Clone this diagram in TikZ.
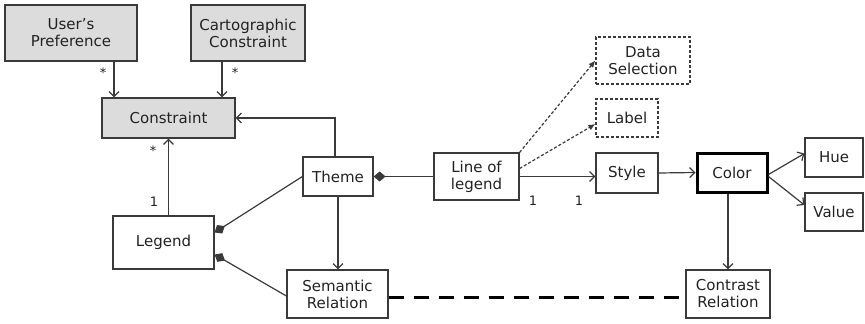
\documentclass[tikz,border=0pt]{standalone}
\usepackage{fontspec}
\setmainfont{DejaVu Sans}
\usetikzlibrary{arrows.meta,calc}
\definecolor{ln}{HTML}{3A3A3A}
\definecolor{tx}{HTML}{222222}
\definecolor{gfill}{HTML}{DCDCDC}
\tikzset{
  box/.style={draw=ln,line width=1.2pt,rectangle,align=center,text=tx,font=\fontsize{15}{17}\selectfont,inner sep=1pt},
  grey/.style={box,fill=gfill},
  dbox/.style={box,dash pattern=on 3pt off 2pt},
  thickbox/.style={box,draw=black,line width=3pt},
  conn/.style={draw=ln,line width=1.2pt},
  arr/.style={conn,-{Straight Barb[length=5pt,width=10pt,line width=1.2pt]}},
  darr/.style={conn,dash pattern=on 3pt off 2pt,-{Latex[length=7pt,width=6pt]}},
  comp/.style={conn,{Diamond[length=12pt,width=10pt]}-},
  mult/.style={text=tx,font=\fontsize{13}{15}\selectfont,inner sep=0pt}
}
\begin{document}
\begin{tikzpicture}[x=1pt,y=-1pt]
\useasboundingbox (0,0) rectangle (865,324);
\node[grey,minimum width=132pt,minimum height=56pt] (up) at (71,33) {User's\\Preference};
\node[grey,minimum width=114pt,minimum height=56pt] (cc) at (248,33) {Cartographic\\Constraint};
\node[grey,minimum width=133pt,minimum height=40pt] (con) at (168.5,118) {Constraint};
\node[box,minimum width=70pt,minimum height=39pt] (theme) at (338,176.5) {Theme};
\node[box,minimum width=101pt,minimum height=53pt] (legend) at (163.5,242.5) {Legend};
\node[box,minimum width=101pt,minimum height=48pt] (sem) at (337.5,294) {Semantic\\Relation};
\node[box,minimum width=85pt,minimum height=47pt] (lol) at (476.5,176.5) {Line of\\legend};
\node[dbox,minimum width=94pt,minimum height=47pt] (ds) at (643,60.5) {Data\\Selection};
\node[dbox,minimum width=62pt,minimum height=38pt] (lab) at (627,118) {Label};
\node[box,minimum width=62pt,minimum height=40pt] (style) at (627,173) {Style};
\node[thickbox,minimum width=70pt,minimum height=39pt] (color) at (732,172.5) {Color};
\node[box,minimum width=58pt,minimum height=39pt] (hue) at (834,157.5) {Hue};
\node[box,minimum width=58pt,minimum height=38pt] (value) at (834,212) {Value};
\node[box,minimum width=84pt,minimum height=48pt] (contrast) at (728,294) {Contrast\\Relation};

% multiplicities
\node[mult] (m1) at (103,73) {*};
\node[mult] (m2) at (235,73) {*};
\node[mult] (m3) at (153,151) {*};
\node[mult] (m4) at (154,202) {1};
\node[mult] (m5) at (533,201) {1};
\node[mult] (m6) at (579,201) {1};

% connectors
\draw[arr] ([xshift=43pt]up.south) -- ([xshift=43pt]up.south |- con.north);
\draw[arr] ([xshift=-26pt]cc.south) -- ([xshift=-26pt]cc.south |- con.north);
\draw[arr] ([xshift=-3pt]theme.north) |- (con.east);
\draw[arr] (con.south |- legend.north) -- (con.south);
\draw[comp] ([yshift=10pt]legend.east) -- (theme.west);
\draw[comp] ([yshift=-12pt]legend.east) -- ([yshift=-2pt]sem.west);
\draw[arr] (theme.south) -- (theme.south |- sem.north);
\draw[comp] (theme.east) -- (lol.west);
\draw[arr] (lol.east) -- (lol.east -| style.west);
\draw[darr] (lol.north east) -- (ds.west);
\draw[darr] ([yshift=8pt]lol.east) -- ([yshift=-6pt]lab.west);
\draw[arr] (style.east) -- (color.west);
\draw[arr] ([yshift=-2pt]color.east) -- ([yshift=4pt]hue.west);
\draw[arr] ([yshift=-4pt]color.east) -- ([yshift=7pt]value.west);
\draw[arr] (contrast.north |- color.south) -- (contrast.north);
\draw[draw=black,line width=3pt,dash pattern=on 15pt off 10pt] ([yshift=-3pt]sem.east) -- ([yshift=-3pt]contrast.west);
\end{tikzpicture}
\end{document}
